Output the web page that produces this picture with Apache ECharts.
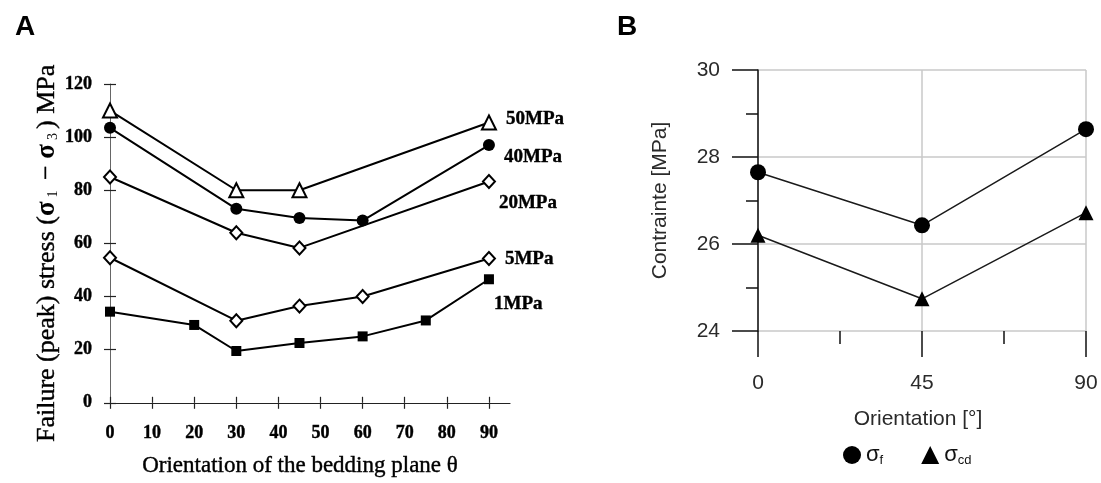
<!DOCTYPE html>
<html><head><meta charset="utf-8">
<script src="https://cdn.jsdelivr.net/npm/echarts@6/dist/echarts.min.js"></script>
<style>html,body{margin:0;padding:0;background:#fff}#c{width:1101px;height:483px}</style>
</head><body><div id="c"></div>
<script>
// ---------- Panel A data ----------
const xTicksA = [0, 10, 20, 30, 40, 50, 60, 70, 80, 90];
const x50 = [0, 30, 45, 90];            const y50 = [110, 80, 80, 105.5];
const x40 = [0, 30, 45, 60, 90];        const y40 = [103.5, 73, 69.6, 68.6, 97];
const x20 = [0, 30, 45, 90];            const y20 = [85, 64, 58.3, 83.3];
const x5  = [0, 30, 45, 60, 90];        const y5  = [54.6, 30.9, 36.4, 40, 54.3];
const x1  = [0, 20, 30, 45, 60, 75, 90]; const y1 = [34.3, 29.3, 19.5, 22.5, 25, 31, 46.5];
const labelsA = ['50MPa', '40MPa', '20MPa', '5MPa', '1MPa'];
const titleXA = 'Orientation of the bedding plane θ';

// ---------- Panel B data ----------
const xB = [0, 45, 90];
const sigmaF  = [27.65, 26.43, 28.64];
const sigmaCD = [26.2, 24.74, 26.72];
const namesB = ['σ_f', 'σ_cd'];
const titleXB = 'Orientation [°]';
const titleYB = 'Contrainte [MPa]';

const serif = 'Liberation Serif';
const sans = 'Liberation Sans';
const heavy = { textBorderColor: '#000', textBorderWidth: 0.4 };

function seriesA(xs, ys, name, symbol, size, filled, off) {
  const data = xs.map((x, i) => [x, ys[i]]);
  const last = data.length - 1;
  data[last] = {
    value: data[last],
    label: Object.assign({ show: true, formatter: name, position: 'right', distance: 0, offset: off,
      fontFamily: serif, fontSize: 19, fontWeight: 'bold', color: '#000' }, heavy)
  };
  return {
    type: 'line', name: name, xAxisIndex: 0, yAxisIndex: 0, data: data,
    symbol: symbol, symbolSize: size, showSymbol: true, silent: true,
    lineStyle: { color: '#000', width: 2 },
    itemStyle: { color: filled ? '#000' : '#fff', borderColor: '#000', borderWidth: filled ? 0 : 2 },
    emphasis: { disabled: true }, z: 3
  };
}

function seriesB(ys, name, symbol, size) {
  return {
    type: 'line', name: name, xAxisIndex: 2, yAxisIndex: 2,
    data: xB.map((x, i) => [x, ys[i]]),
    symbol: symbol, symbolSize: size, showSymbol: true, silent: true,
    lineStyle: { color: '#1a1a1a', width: 1.5 },
    itemStyle: { color: '#000' }, emphasis: { disabled: true }, z: 3
  };
}

const chart = echarts.init(document.getElementById('c'), null, { renderer: 'canvas' });
chart.setOption({
  animation: false,
  backgroundColor: '#fff',
  title: [
    { text: 'A', left: 10, top: 8, textStyle: { fontFamily: sans, fontSize: 28, fontWeight: 'bold', color: '#000' } },
    { text: 'B', left: 612, top: 8, textStyle: { fontFamily: sans, fontSize: 28, fontWeight: 'bold', color: '#000' } }
  ],
  grid: [
    { left: 110, top: 84, width: 400, height: 321 },
    { left: 758, top: 70, width: 328, height: 261 }
  ],
  xAxis: [
    { gridIndex: 0, type: 'value', min: 0, max: 95, position: 'bottom',
      axisLine: { show: true, lineStyle: { color: '#222', width: 1.2 } },
      axisTick: { show: true, customValues: xTicksA, length: 6, lineStyle: { color: '#222', width: 1.2 } },
      axisLabel: Object.assign({ customValues: xTicksA, margin: 22, fontFamily: serif, fontSize: 18, fontWeight: 'bold', color: '#000' }, heavy),
      splitLine: { show: false },
      name: titleXA, nameLocation: 'middle', nameGap: 52,
      nameTextStyle: Object.assign({ fontFamily: serif, fontSize: 23, color: '#000', padding: [0, 20, 0, 0] }, heavy) },
    { gridIndex: 0, type: 'value', min: 0, max: 95, position: 'bottom',
      axisLine: { show: false },
      axisTick: { show: true, inside: true, customValues: xTicksA, length: 6, lineStyle: { color: '#222', width: 1.2 } },
      axisLabel: { show: false }, splitLine: { show: false } },
    { gridIndex: 1, type: 'value', min: 0, max: 90, interval: 45, position: 'bottom',
      axisLine: { show: false },
      axisTick: { show: true, length: 26, lineStyle: { color: '#111', width: 1.5 } },
      minorTick: { show: true, splitNumber: 2, length: 13, lineStyle: { color: '#111', width: 1.5 } },
      axisLabel: { margin: 42, fontFamily: sans, fontSize: 21, color: '#2a2a2a' },
      splitLine: { show: true, lineStyle: { color: '#c8c8c8', width: 1.5 } },
      name: titleXB, nameLocation: 'middle', nameGap: 78,
      nameTextStyle: { fontFamily: sans, fontSize: 21, color: '#2a2a2a', padding: [0, 8, 0, 0] } }
  ],
  yAxis: [
    { gridIndex: 0, type: 'value', min: 0, max: 120, interval: 20, position: 'left',
      axisLine: { show: true, lineStyle: { color: '#666', width: 1 } },
      axisTick: { show: true, length: 6, lineStyle: { color: '#222', width: 1.2 } },
      axisLabel: Object.assign({ margin: 18, fontFamily: serif, fontSize: 18, fontWeight: 'bold', color: '#000' }, heavy),
      splitLine: { show: false },
      name: '{t|Failure (peak) stress (}{g|σ}{s|1}{t| − }{g|σ}{s|3}{t|) MPa}',
      nameLocation: 'middle', nameGap: 42,
      nameTextStyle: { fontFamily: serif, fontSize: 26, color: '#000', padding: [0, 20, 0, 0],
        rich: { t: Object.assign({ fontFamily: serif, fontSize: 26, color: '#000' }, heavy),
                g: { fontFamily: serif, fontSize: 27, fontWeight: 'bold', color: '#000' },
                s: { fontFamily: serif, fontSize: 14, color: '#000', padding: [12, 4, 0, 4] } } } },
    { gridIndex: 0, type: 'value', min: 0, max: 120, interval: 20, position: 'left',
      axisLine: { show: false },
      axisTick: { show: true, inside: true, length: 6, lineStyle: { color: '#222', width: 1.2 } },
      axisLabel: { show: false }, splitLine: { show: false } },
    { gridIndex: 1, type: 'value', min: 24, max: 30, interval: 2, position: 'left',
      axisLine: { show: true, lineStyle: { color: '#111', width: 1.5 } },
      axisTick: { show: true, length: 26, lineStyle: { color: '#111', width: 1.5 } },
      minorTick: { show: true, splitNumber: 2, length: 12, lineStyle: { color: '#111', width: 1.5 } },
      axisLabel: { margin: 38, fontFamily: sans, fontSize: 21, color: '#2a2a2a' },
      splitLine: { show: true, lineStyle: { color: '#c8c8c8', width: 1.5 } },
      name: titleYB, nameLocation: 'middle', nameGap: 87,
      nameTextStyle: { fontFamily: sans, fontSize: 21, color: '#2a2a2a' } }
  ],
  legend: {
    data: [{ name: namesB[0], icon: 'circle' }, { name: namesB[1], icon: 'triangle' }],
    left: 838, top: 439, itemWidth: 18, itemHeight: 18, itemGap: 38,
    selectedMode: false,
    formatter: function (n) { const p = n.split('_'); return '{m|' + p[0] + '}{s|' + p[1] + '}'; },
    textStyle: { rich: {
      m: { fontFamily: sans, fontSize: 22, color: '#111' },
      s: { fontFamily: sans, fontSize: 13, color: '#111', padding: [10, 0, 0, 0] } } }
  },
  series: [
    seriesA(x50, y50, labelsA[0], 'triangle', 14, false, [9, -3]),
    seriesA(x40, y40, labelsA[1], 'circle', 12, true, [9, 12]),
    seriesA(x20, y20, labelsA[2], 'diamond', [12, 13], false, [3, 22]),
    seriesA(x5, y5, labelsA[3], 'diamond', [12, 13], false, [9, 1]),
    seriesA(x1, y1, labelsA[4], 'rect', 10, true, [0, 25]),
    seriesB(sigmaF, namesB[0], 'circle', 16),
    seriesB(sigmaCD, namesB[1], 'triangle', 15)
  ]
});
</script>
</body></html>
